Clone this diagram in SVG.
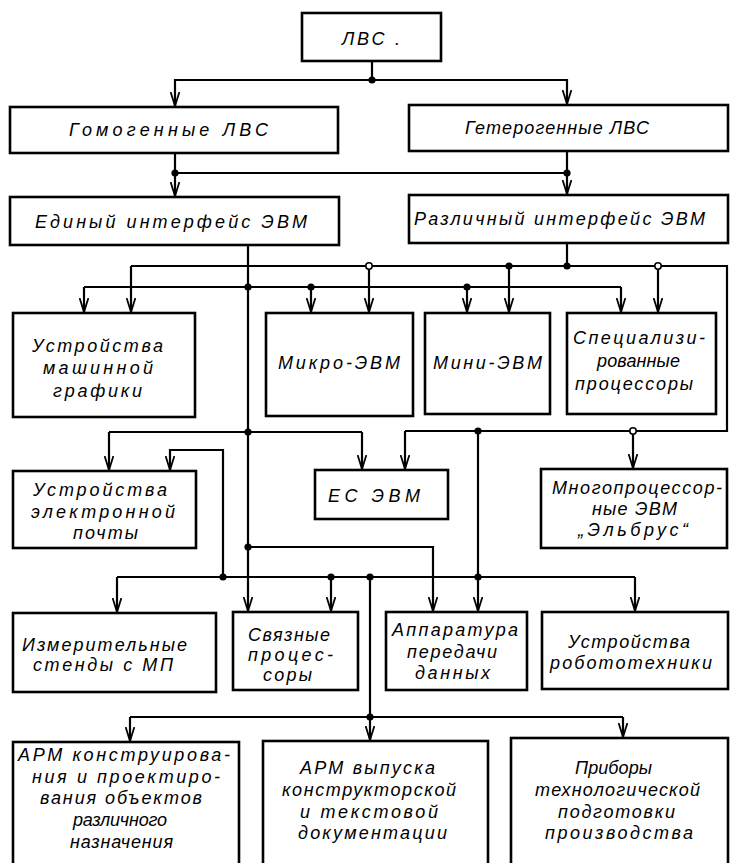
<svg xmlns="http://www.w3.org/2000/svg" width="730" height="863" viewBox="0 0 730 863">
<style>
.box{fill:#fff;stroke:#000;stroke-width:2.6}
.ln{fill:none;stroke:#000;stroke-width:2.2}
.ar{fill:none;stroke:#000;stroke-width:2.2;marker-end:url(#arr)}
.dot{fill:#000}
.hd{fill:#fff;stroke:#000;stroke-width:1.6}
text{font-family:"Liberation Sans","DejaVu Sans",sans-serif;font-style:italic;font-size:18px;fill:#000}
</style>
<defs>
<marker id="arr" viewBox="0 0 14 10" refX="14" refY="5" markerWidth="14" markerHeight="10" orient="auto" markerUnits="userSpaceOnUse">
<path d="M0,0.6 L14,5 L0,9.4" fill="none" stroke="#000" stroke-width="1.8"/>
</marker>
</defs>
<rect width="730" height="863" fill="#fff"/>
<g id="connectors">
<path class="ln" d="M372,61 V80"/>
<path class="ar" d="M372,80 H175 V106"/>
<path class="ar" d="M372,80 H567 V104"/>
<path class="ln" d="M175,153 V173 H567 V151"/>
<path class="ar" d="M175,173 V196"/>
<path class="ar" d="M567,173 V194"/>
<path class="ar" d="M248,245 V611"/>
<path class="ln" d="M567,243 V266"/>
<path class="ln" d="M131,266 H727 V431 H405"/>
<path class="ar" d="M131,266 V312"/>
<path class="ar" d="M369,266 V312"/>
<path class="ar" d="M509,266 V312"/>
<path class="ar" d="M658,266 V312"/>
<path class="ar" d="M405,431 V469"/>
<path class="ar" d="M633,431 V468"/>
<path class="ln" d="M84,287 H621"/>
<path class="ar" d="M84,287 V312"/>
<path class="ar" d="M311,287 V312"/>
<path class="ar" d="M467,287 V312"/>
<path class="ar" d="M621,287 V312"/>
<path class="ln" d="M109,432 H362"/>
<path class="ar" d="M109,432 V470"/>
<path class="ar" d="M362,432 V469"/>
<path class="ar" d="M478,431 V611"/>
<path class="ar" d="M223,577 V450 H170 V470"/>
<path class="ar" d="M248,547 H433 V611"/>
<path class="ln" d="M117,577 H635"/>
<path class="ar" d="M117,577 V612"/>
<path class="ar" d="M331,577 V611"/>
<path class="ar" d="M635,577 V611"/>
<path class="ln" d="M370,577 V717"/>
<path class="ln" d="M130,717 H623"/>
<path class="ar" d="M130,717 V741"/>
<path class="ar" d="M370,717 V740"/>
<path class="ar" d="M623,717 V737"/>
<circle class="dot" cx="372" cy="80" r="3.6"/>
<circle class="dot" cx="175" cy="173" r="3.6"/>
<circle class="dot" cx="567" cy="173" r="3.6"/>
<circle class="hd" cx="369" cy="266" r="3.2"/>
<circle class="dot" cx="509" cy="266" r="3.6"/>
<circle class="dot" cx="567" cy="266" r="3.6"/>
<circle class="hd" cx="658" cy="266" r="3.2"/>
<circle class="dot" cx="248" cy="287" r="3.6"/>
<circle class="dot" cx="311" cy="287" r="3.6"/>
<circle class="dot" cx="467" cy="287" r="3.6"/>
<circle class="dot" cx="248" cy="432" r="3.6"/>
<circle class="dot" cx="478" cy="431" r="3.6"/>
<circle class="hd" cx="633" cy="431" r="3.2"/>
<circle class="dot" cx="248" cy="547" r="3.6"/>
<circle class="dot" cx="223" cy="577" r="3.6"/>
<circle class="dot" cx="331" cy="577" r="3.6"/>
<circle class="dot" cx="370" cy="577" r="3.6"/>
<circle class="dot" cx="478" cy="577" r="3.6"/>
<circle class="dot" cx="370" cy="717" r="3.6"/>
</g>
<g id="lvs"><rect class="box" x="302" y="13" width="139" height="48"/><text x="342" y="45" textLength="58">ЛВС .</text></g>
<g id="gomo"><rect class="box" x="10" y="107" width="328" height="46"/><text x="69" y="136" textLength="199">Гомогенные ЛВС</text></g>
<g id="getero"><rect class="box" x="409" y="105" width="319" height="46"/><text x="465" y="134" textLength="184">Гетерогенные ЛВС</text></g>
<g id="edin"><rect class="box" x="10" y="197" width="329" height="48"/><text x="35" y="228" textLength="272">Единый интерфейс ЭВМ</text></g>
<g id="razl"><rect class="box" x="409" y="195" width="319" height="48"/><text x="414" y="225" textLength="291">Различный интерфейс ЭВМ</text></g>
<g id="umg"><rect class="box" x="13" y="313" width="182" height="104"/>
<text x="32" y="352" textLength="131">Устройства</text><text x="43" y="374" textLength="110">машинной</text><text x="53" y="397" textLength="89">графики</text></g>
<g id="mikro"><rect class="box" x="266" y="313" width="147" height="103"/><text x="278" y="369" textLength="122">Микро-ЭВМ</text></g>
<g id="mini"><rect class="box" x="425" y="313" width="125" height="101"/><text x="433" y="369" textLength="109">Мини-ЭВМ</text></g>
<g id="spec"><rect class="box" x="567" y="313" width="149" height="101"/>
<text x="573" y="344" textLength="132">Специализи-</text><text x="597" y="367" textLength="83">рованные</text><text x="575" y="390" textLength="118">процессоры</text></g>
<g id="uep"><rect class="box" x="13" y="471" width="183" height="77"/>
<text x="33" y="496" textLength="134">Устройства</text><text x="31" y="518" textLength="144">электронной</text><text x="73" y="539" textLength="65">почты</text></g>
<g id="es"><rect class="box" x="315" y="470" width="133" height="49"/><text x="328" y="502" textLength="92">ЕС ЭВМ</text></g>
<g id="mnogo"><rect class="box" x="541" y="469" width="186" height="79"/>
<text x="552" y="494" textLength="170">Многопроцессор-</text><text x="592" y="515" textLength="85">ные ЭВМ</text><text x="578" y="536" textLength="110">„Эльбрус“</text></g>
<g id="izm"><rect class="box" x="13" y="613" width="203" height="79"/>
<text x="22" y="651" textLength="165">Измерительные</text><text x="33" y="671" textLength="140">стенды с МП</text></g>
<g id="svyaz"><rect class="box" x="233" y="612" width="125" height="78"/>
<text x="248" y="641" textLength="82">Связные</text><text x="248" y="661" textLength="85">процес-</text><text x="263" y="681" textLength="49">соры</text></g>
<g id="appar"><rect class="box" x="386" y="612" width="141" height="78"/>
<text x="392" y="636" textLength="126">Аппаратура</text><text x="407" y="658" textLength="90">передачи</text><text x="415" y="679" textLength="75">данных</text></g>
<g id="robot"><rect class="box" x="542" y="612" width="186" height="77"/>
<text x="568" y="648" textLength="122">Устройства</text><text x="550" y="669" textLength="162">робототехники</text></g>
<g id="arm1"><rect class="box" x="13" y="742" width="226" height="130"/>
<text x="18" y="761" textLength="212">АРМ конструирова-</text><text x="32" y="783" textLength="188">ния и проектиро-</text><text x="40" y="804" textLength="162">вания объектов</text><text x="73" y="826" textLength="94">различного</text><text x="70" y="848" textLength="103">назначения</text></g>
<g id="arm2"><rect class="box" x="263" y="741" width="225" height="130"/>
<text x="300" y="774" textLength="135">АРМ выпуска</text><text x="282" y="796" textLength="174">конструкторской</text><text x="300" y="818" textLength="138">и текстовой</text><text x="298" y="839" textLength="149">документации</text></g>
<g id="prib"><rect class="box" x="511" y="738" width="217" height="134"/>
<text x="575" y="774" textLength="77">Приборы</text><text x="535" y="796" textLength="165">технологической</text><text x="558" y="818" textLength="117">подготовки</text><text x="545" y="839" textLength="148">производства</text></g>
</svg>
